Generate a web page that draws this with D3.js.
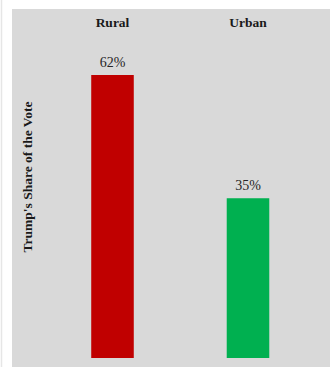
<!DOCTYPE html>
<html>
<head>
<meta charset="utf-8">
<script src="https://cdn.jsdelivr.net/npm/d3@7"></script>
<style>
  html, body { margin: 0; padding: 0; background: #ffffff; }
  svg { display: block; }
</style>
</head>
<body>
<div id="chart"></div>
<script>
// vote share by area type
const areas = ["Rural", "Urban"];
const shares = [62, 35];
const barColors = ["#c00000", "#00b050"];
const yTitle = "Trump's Share of the Vote";

const width = 332, height = 367;
const panel = {left: 12, top: 9, right: 330, bottom: 367};

const svg = d3.select("#chart").append("svg")
    .attr("width", width)
    .attr("height", height);

// thin edge line on the far left
svg.append("line")
    .attr("x1", 1.5).attr("x2", 1.5)
    .attr("y1", 0).attr("y2", height)
    .attr("stroke", "#e6e6e6")
    .attr("stroke-width", 1.5);

// grey plot panel
svg.append("rect")
    .attr("x", panel.left)
    .attr("y", panel.top)
    .attr("width", panel.right - panel.left)
    .attr("height", panel.bottom - panel.top)
    .attr("fill", "#d9d9d9");

// Scales
let x = d3.scaleBand()
    .domain(areas)
    .range([44.75, 315.75])
    .paddingInner(0.686)
    .paddingOuter(0.343);

let y = d3.scaleLinear()
    .domain([0, 62])
    .range([358, 75]);

let data = areas.map((a, i) => ({area: a, share: shares[i], color: barColors[i]}));

// Bars
svg.selectAll(".bar")
    .data(data)
    .enter()
    .append("rect")
    .attr("class", "bar")
    .attr("x", d => x(d.area))
    .attr("y", d => y(d.share))
    .attr("width", x.bandwidth())
    .attr("height", d => y(0) - y(d.share))
    .attr("fill", d => d.color);

// value labels above the bars
svg.selectAll(".val")
    .data(data)
    .enter()
    .append("text")
    .attr("class", "val")
    .attr("x", d => x(d.area) + x.bandwidth() / 2)
    .attr("y", d => y(d.share) - 8)
    .attr("text-anchor", "middle")
    .style("font-family", "'Liberation Serif', 'Times New Roman', serif")
    .style("font-size", "14px")
    .style("fill", "#262626")
    .text(d => d.share + "%");

// category headers along the top
svg.selectAll(".cat")
    .data(areas)
    .enter()
    .append("text")
    .attr("class", "cat")
    .attr("x", d => x(d) + x.bandwidth() / 2)
    .attr("y", 27)
    .attr("text-anchor", "middle")
    .style("font-family", "'Liberation Serif', 'Times New Roman', serif")
    .style("font-weight", "bold")
    .style("font-size", "13.5px")
    .style("fill", "#1a1a1a")
    .text(d => d);

// y axis title
svg.append("text")
    .attr("transform", "translate(32,177) rotate(-90)")
    .attr("text-anchor", "middle")
    .style("font-family", "'Liberation Serif', 'Times New Roman', serif")
    .style("font-weight", "bold")
    .style("font-size", "13.5px")
    .style("fill", "#1a1a1a")
    .text(yTitle);
</script>
</body>
</html>
